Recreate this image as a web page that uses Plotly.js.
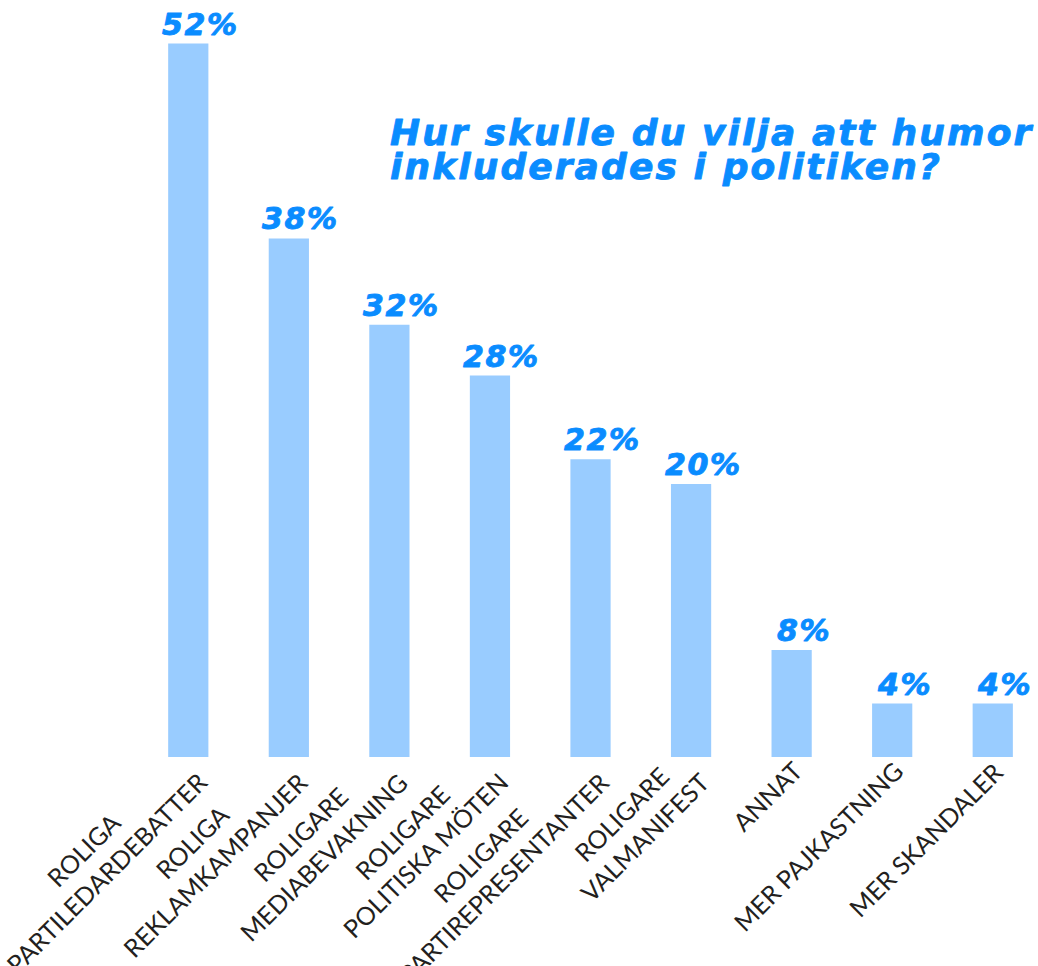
<!DOCTYPE html>
<html>
<head>
<meta charset="utf-8">
<script src="https://cdn.plot.ly/plotly-3.0.1.min.js"></script>
<style>
html,body{margin:0;padding:0;background:#fff;}
#chart{width:1038px;height:966px;}
text.annotation-text[style*="DejaVu"]{letter-spacing:1.6px;stroke:#0a8cff;stroke-width:0.9px;stroke-linejoin:round;}
text.annotation-text[style*="36px"]{letter-spacing:2.1px;}
</style>
</head>
<body>
<div id="chart"></div>
<script>
// ---- data ----
const categories = [
  'ROLIGA<br>PARTILEDARDEBATTER',
  'ROLIGA<br>REKLAMKAMPANJER',
  'ROLIGARE<br>MEDIABEVAKNING',
  'ROLIGARE<br>POLITISKA MÖTEN',
  'ROLIGARE<br>PARTIREPRESENTANTER',
  'ROLIGARE<br>VALMANIFEST',
  'ANNAT',
  'MER PAJKASTNING',
  'MER SKANDALER'
];
const values = [52, 37.8, 31.5, 27.8, 21.7, 19.9, 7.8, 3.9, 3.9];
const valueLabels = ['52%', '38%', '32%', '28%', '22%', '20%', '8%', '4%', '4%'];
const titleLines = ['Hur skulle du vilja att humor', 'inkluderades i politiken?'];

// ---- styles ----
const BAR_COLOR = '#99ccff';
const ACCENT = '#0a8cff';
const LABEL_COLOR = '#231f20';
const boldItalic = {family: 'DejaVu Sans', weight: 'bold', style: 'italic', color: ACCENT};

const annotations = [];

// value labels above bars
categories.forEach((c, i) => {
  annotations.push({
    x: c, y: values[i], xref: 'x', yref: 'y',
    text: valueLabels[i], showarrow: false,
    xanchor: 'center', yanchor: 'bottom',
    xshift: 12, yshift: 0,
    font: Object.assign({size: 30}, boldItalic)
  });
});

// rotated category labels (centered lines)
categories.forEach((c) => {
  const lines = c.split('<br>').length;
  annotations.push({
    x: c, y: 0, xref: 'x', yref: 'y',
    text: c, showarrow: false, textangle: -45, align: 'center',
    xanchor: 'right', yanchor: 'top',
    xshift: lines > 1 ? 27 : 19,
    yshift: lines > 1 ? 16 : 4,
    font: {family: 'Lato', size: 25, color: LABEL_COLOR}
  });
});

// title lines
annotations.push({
  xref: 'paper', yref: 'paper', x: 0.2778, y: 0.806,
  xanchor: 'left', yanchor: 'bottom', showarrow: false,
  text: titleLines[0], font: Object.assign({size: 36}, boldItalic)
});
annotations.push({
  xref: 'paper', yref: 'paper', x: 0.2778, y: 0.760,
  xanchor: 'left', yanchor: 'bottom', showarrow: false,
  text: titleLines[1], font: Object.assign({size: 36}, boldItalic)
});

const trace = {
  type: 'bar',
  x: categories,
  y: values,
  width: 0.4,
  marker: {color: BAR_COLOR},
  hoverinfo: 'skip'
};

const layout = {
  width: 1038, height: 966,
  margin: {l: 138, r: 0, t: 10, b: 209},
  paper_bgcolor: '#ffffff', plot_bgcolor: '#ffffff',
  showlegend: false,
  xaxis: {type: 'category', range: [-0.5, 8.45], showticklabels: false, showgrid: false, zeroline: false, showline: false, ticks: ''},
  yaxis: {range: [0, 54.45], visible: false, showgrid: false, zeroline: false},
  annotations: annotations
};

Plotly.newPlot('chart', [trace], layout, {displayModeBar: false, staticPlot: true});
</script>
</body>
</html>
